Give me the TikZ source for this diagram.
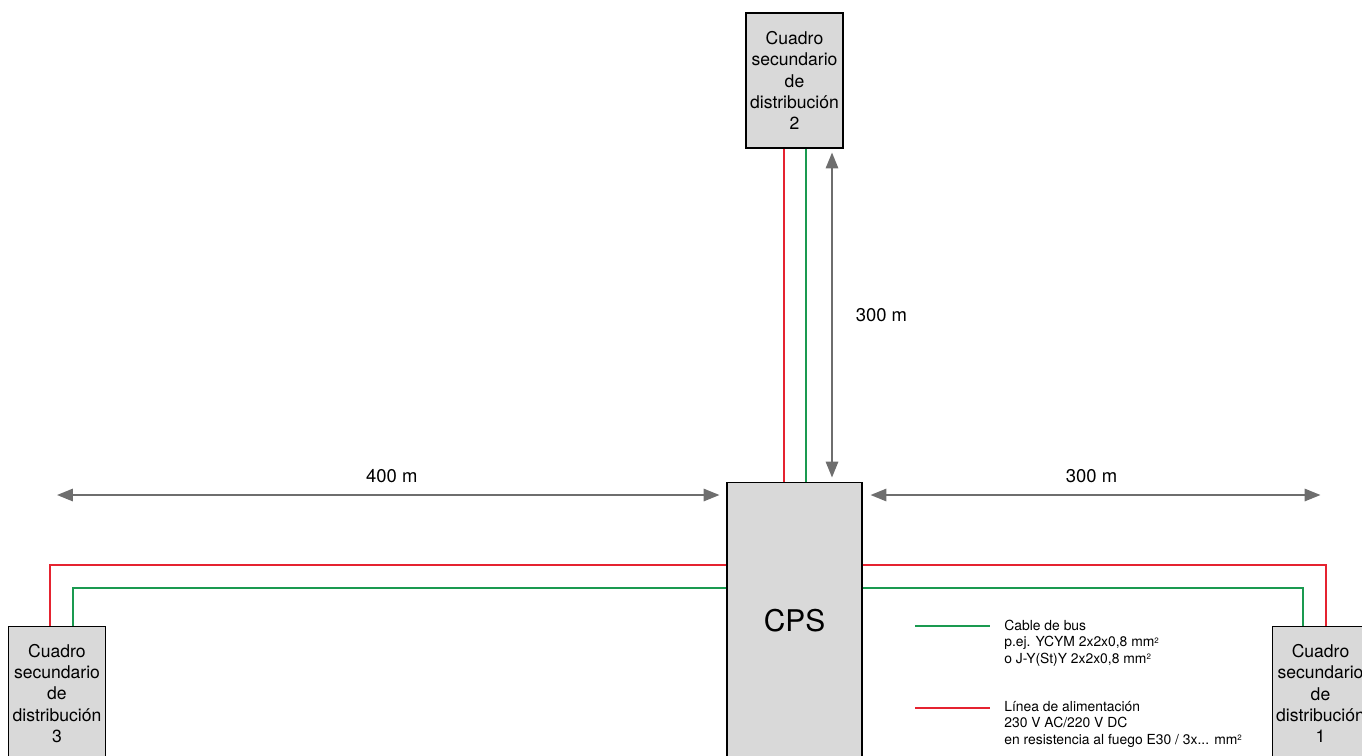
\documentclass[tikz,border=0pt]{standalone}
\usepackage{fontspec}
\setmainfont{TeX Gyre Heros}
\usetikzlibrary{arrows.meta}
\definecolor{busgreen}{HTML}{1A9A50}
\definecolor{powerred}{HTML}{E52330}
\definecolor{boxgray}{HTML}{D9D9D9}
\definecolor{dimgray}{HTML}{6E6E6E}
\newcommand{\sqr}{\raisebox{0.45ex}{\fontsize{4.5}{5}\selectfont 2}}

\begin{document}
\begin{tikzpicture}[
  x=0.02cm, y=-0.02cm,
  box/.style={rectangle, draw, fill=boxgray, line width=0.6pt, inner sep=0pt,
    minimum width=1.94cm, minimum height=2.7cm, align=center,
    font=\fontsize{10}{12}\selectfont},
  bus/.style={draw=busgreen, line width=1.1pt},
  power/.style={draw=powerred, line width=1.1pt},
  dim/.style={draw=dimgray, line width=1.1pt,
    {Triangle[length=9pt,width=7pt]}-{Triangle[length=9pt,width=7pt]}},
  meas/.style={font=\fontsize{10.5}{12}\selectfont, text=black},
  legend/.style={align=left, anchor=west, inner sep=0pt,
    font=\fontsize{7.9}{9.4}\selectfont}
]
\useasboundingbox (0,0) rectangle (1362,755);

\coordinate (r2) at (784,0);
\coordinate (g2) at (806,0);
\coordinate (va) at (832,0);
\coordinate (hy) at (0,495);
\coordinate (ry) at (0,565);
\coordinate (gy) at (0,588);
\coordinate (r3) at (50,0);
\coordinate (g3) at (73,0);
\coordinate (r1) at (1326,0);
\coordinate (g1) at (1303,0);

\node[box] (box2) at (794.5,80.5) {Cuadro\\secundario\\de\\distribución\\2};
\node[box] (box3) at (57,693.5) {Cuadro\\secundario\\de\\distribución\\3};
\node[box] (box1) at (1320.5,693.5) {Cuadro\\secundario\\de\\distribución\\1};
\node[box, minimum width=2.7cm, minimum height=5.56cm,
  font=\fontsize{17}{20}\selectfont] (cps) at (794.5,621) {CPS};

\draw[power] (cps.north -| r2) -- (box2.south -| r2);
\draw[bus] (cps.north -| g2) -- (box2.south -| g2);
\draw[power] (cps.west |- ry) -| (box3.north -| r3);
\draw[bus] (cps.west |- gy) -| (box3.north -| g3);
\draw[power] (cps.east |- ry) -| (box1.north -| r1);
\draw[bus] (cps.east |- gy) -| (box1.north -| g1);

\draw[dim, shorten <=0.08cm, shorten >=0.08cm] (box2.south -| va)
  -- node[meas, right=0.34cm] {300 m} (cps.north -| va);
\draw[dim, shorten >=0.14cm] (box3.north |- hy)
  -- node[meas, above=0.1cm] {400 m} (cps.west |- hy);
\draw[dim, shorten <=0.16cm] (cps.east |- hy)
  -- node[meas, above=0.1cm] {300 m} (box1.north |- hy);

\coordinate (lgbus) at (915,626);
\coordinate (lgpow) at (915,708);
\node[legend] (busl) at (1004,643) {Cable de bus\\p.ej. YCYM 2x2x0,8 mm\sqr\\o J-Y(St)Y 2x2x0,8 mm\sqr};
\node[legend] (powl) at (1004,724) {Línea de alimentación\\230 V AC/220 V DC\\en resistencia al fuego E30 / 3x... mm\sqr};
\draw[bus] (lgbus) -- ++(75,0);
\draw[power] (lgpow) -- ++(75,0);
\end{tikzpicture}
\end{document}
